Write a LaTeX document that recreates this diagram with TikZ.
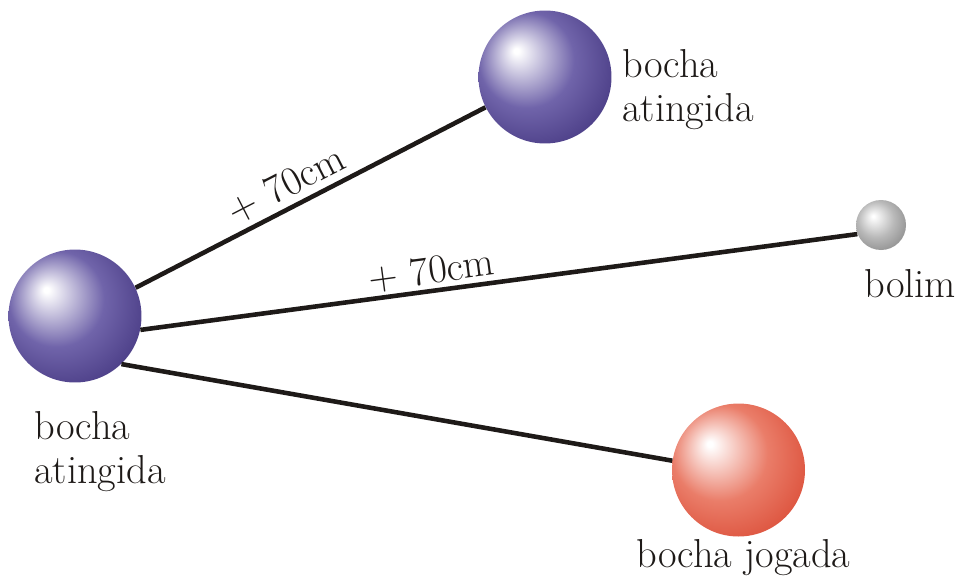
\documentclass[tikz,border=0pt]{standalone}
\definecolor{bB1}{RGB}{112,100,170}
\definecolor{bB2}{RGB}{62,48,122}
\definecolor{rR1}{RGB}{234,125,105}
\definecolor{rR2}{RGB}{216,68,46}
\definecolor{gG1}{RGB}{185,185,185}
\definecolor{gG2}{RGB}{130,130,130}
\definecolor{ink}{RGB}{30,26,24}
\pgfdeclareradialshading{sphB}{\pgfqpoint{-11bp}{10bp}}{color(0bp)=(white); color(1bp)=(white); color(18bp)=(bB1); color(37bp)=(bB2); color(50bp)=(bB2)}
\pgfdeclareradialshading{sphR}{\pgfqpoint{-11bp}{10bp}}{color(0bp)=(white); color(1bp)=(white); color(18bp)=(rR1); color(37bp)=(rR2); color(50bp)=(rR2)}
\pgfdeclareradialshading{sphG}{\pgfqpoint{-8bp}{9bp}}{color(0bp)=(white); color(1bp)=(white); color(18bp)=(gG1); color(36bp)=(gG2); color(50bp)=(gG2)}
\begin{document}
\begin{tikzpicture}[x=0.02cm,y=-0.02cm,
  sph/.style={circle, inner sep=0pt, minimum size=#1},
  conn/.style={line width=2.6pt, draw=ink},
  lbl/.style={font=\fontsize{23}{25}\selectfont, text=ink, inner sep=0pt, align=left},
  dist/.style={font=\fontsize{23}{25}\selectfont, text=ink, inner sep=0pt, sloped}
]
\useasboundingbox (0,0) rectangle (962,582);
\node[sph=2.66cm, shading=sphB] (L) at (75,316) {};
\node[sph=2.66cm, shading=sphB] (T) at (545,77) {};
\node[sph=2.66cm, shading=sphR] (R) at (738.5,470) {};
\node[sph=1cm, shading=sphG] (B) at (881,225) {};

\draw[conn] (L.25.8) -- node[dist, above=3pt, pos=0.46] (d1) {+ 70cm} (T.207);
\draw[conn] (L.-12) -- node[dist, above=1.5pt, pos=0.41] (d2) {+ 70cm} (B.201);
\draw[conn] (L.-46) -- (R.172);

\node[lbl, anchor=base west] (tL) at (34,483) {bocha\\atingida};
\node[lbl, anchor=base west] (tT) at (622,121) {bocha\\atingida};
\node[lbl, anchor=base west] (tB) at (864,297) {bolim};
\node[lbl, anchor=base west] (tR) at (636,567) {bocha jogada};
\end{tikzpicture}
\end{document}
